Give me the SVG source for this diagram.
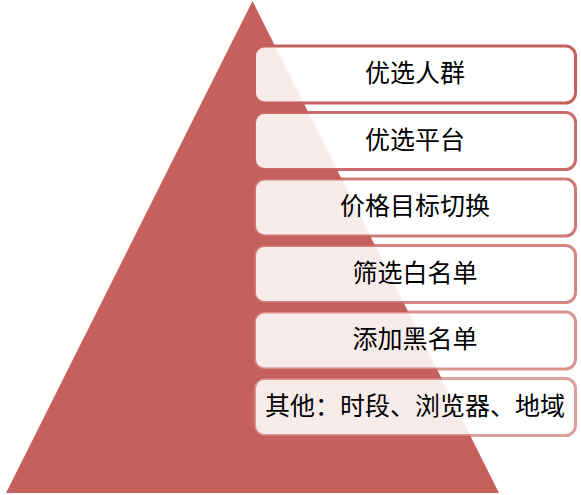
<svg xmlns="http://www.w3.org/2000/svg" width="581" height="495" viewBox="0 0 581 495">
<style>
.box{fill:#ffffff;fill-opacity:0.88;stroke:#c5605c;stroke-width:3}
.lbl{font-family:"Liberation Serif","Noto Sans CJK SC",serif;font-size:25px;fill:#000000;text-anchor:middle;dominant-baseline:central}
</style>
<rect width="581" height="495" fill="#ffffff"/>
<g id="pyramid">
<polygon points="252.5,1 499,493 6,493" fill="#c5605c"/>
</g>
<g id="node1">
<rect class="box" x="254.5" y="46" width="321" height="57" rx="10" stroke-opacity="1"/>
<text class="lbl" x="415" y="73.5">优选人群</text>
</g>
<g id="node2">
<rect class="box" x="254.5" y="112.5" width="321" height="57" rx="10" stroke-opacity="0.92"/>
<text class="lbl" x="415" y="140">优选平台</text>
</g>
<g id="node3">
<rect class="box" x="254.5" y="179" width="321" height="57" rx="10" stroke-opacity="0.84"/>
<text class="lbl" x="415" y="206.5">价格目标切换</text>
</g>
<g id="node4">
<rect class="box" x="254.5" y="245.5" width="321" height="57" rx="10" stroke-opacity="0.76"/>
<text class="lbl" x="415" y="273">筛选白名单</text>
</g>
<g id="node5">
<rect class="box" x="254.5" y="312" width="321" height="57" rx="10" stroke-opacity="0.68"/>
<text class="lbl" x="415" y="339.5">添加黑名单</text>
</g>
<g id="node6">
<rect class="box" x="254.5" y="378.5" width="321" height="57" rx="10" stroke-opacity="0.6"/>
<text class="lbl" x="415" y="406">其他：时段、浏览器、地域</text>
</g>
</svg>
